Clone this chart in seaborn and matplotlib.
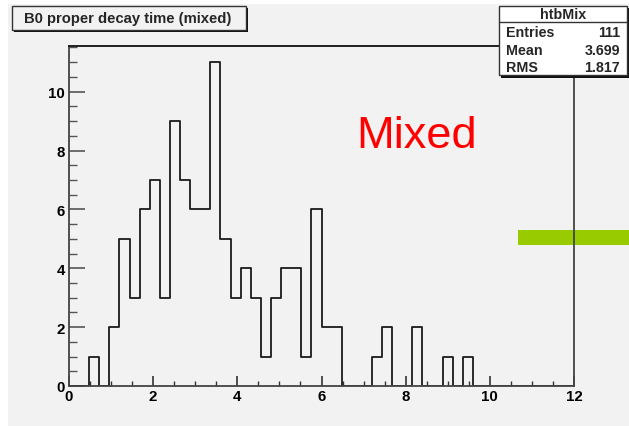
import numpy as np
import pandas as pd
import matplotlib
matplotlib.use("Agg")
import matplotlib.pyplot as plt
from matplotlib.patches import Rectangle
import seaborn as sns

# ---- data ----
bin_width = 0.24
x_min, x_max = 0.0, 12.0
counts = [0, 0, 1, 0, 2, 5, 3, 6, 7, 3,
          9, 7, 6, 6, 11, 5, 3, 4, 3, 1,
          3, 4, 4, 1, 6, 2, 2, 0, 0, 0,
          1, 2, 0, 0, 2, 0, 0, 1, 0, 1,
          0, 0, 0, 0, 0, 0, 0, 0, 0, 0]
hist_name = "htbMix"
title = "B0 proper decay time (mixed)"
stat_labels = ["Entries", "Mean", "RMS"]
stat_values = ["111", "3.699", "1.817"]
annotation = "Mixed"
x_ticks = [0, 2, 4, 6, 8, 10, 12]
y_ticks = [0, 2, 4, 6, 8, 10]

edges = np.linspace(x_min, x_max, len(counts) + 1)
centers = (edges[:-1] + edges[1:]) / 2
df = pd.DataFrame({"t": centers, "n": counts})

sns.set_theme(style="white")
plt.rcParams["font.family"] = ["Liberation Sans", "DejaVu Sans"]

W, H = 629, 427
fig = plt.figure(figsize=(W / 100, H / 100), dpi=100)
fig.patch.set_facecolor("white")

def fx(px):
    return px / W

def fy(py):
    return 1 - py / H

# gray canvas
fig.patches.append(Rectangle((fx(8), fy(427)), fx(629) - fx(8), fy(5) - fy(427),
                             transform=fig.transFigure, facecolor="#f2f2f2",
                             edgecolor="none", zorder=-3))
# green bar
fig.patches.append(Rectangle((fx(518), fy(246)), fx(629) - fx(518), fy(231) - fy(246),
                             transform=fig.transFigure, facecolor="#99cc00",
                             edgecolor="none", zorder=-1))

ax = fig.add_axes([fx(69), fy(387), fx(574) - fx(69), fy(47) - fy(387)])
ax.set_facecolor("none")
ax.set_zorder(0)

sns.histplot(data=df, x="t", weights="n", bins=[float(e) for e in edges],
             element="step", fill=False,
             color="#1a1a1a", linewidth=1.3, ax=ax)

ax.set_xlim(x_min, x_max)
ax.set_ylim(0, max(counts) * 1.05)
ax.set_xlabel("")
ax.set_ylabel("")
ax.set_xticks(x_ticks)
ax.set_yticks(y_ticks)
ax.set_xticks(np.arange(x_min, x_max + 0.01, 0.5), minor=True)
ax.set_yticks(np.arange(0, 11.51, 0.5), minor=True)
ax.set_xticklabels([str(v) for v in x_ticks], fontweight="bold", fontsize=10.8)
ax.set_yticklabels([str(v) for v in y_ticks], fontweight="bold", fontsize=10.8)
ax.tick_params(axis="x", which="major", direction="in", length=7.2, width=1.2,
               color="#333333", pad=2, bottom=True, top=False, labelcolor="black")
ax.tick_params(axis="x", which="minor", direction="in", length=3.6, width=1.0,
               color="#333333", bottom=True, top=False)
ax.tick_params(axis="y", which="major", direction="in", length=11.5, width=1.2,
               color="#555555", pad=3, left=True, right=False, labelcolor="black")
ax.tick_params(axis="y", which="minor", direction="in", length=5.8, width=1.0,
               color="#555555", left=True, right=False)
for side in ["left", "bottom", "right", "top"]:
    ax.spines[side].set_visible(True)
    ax.spines[side].set_color("#444444")
    ax.spines[side].set_linewidth(1.3)
ax.spines["top"].set_color("#111111")

# annotation
fig.text(fx(417), fy(148), annotation, color="red", fontsize=32.5,
         ha="center", va="baseline")

# title box with shadow
fig.patches.append(Rectangle((fx(14), fy(33)), fx(248) - fx(14), fy(9) - fy(33),
                             transform=fig.transFigure, facecolor="#111111",
                             edgecolor="none", zorder=3))
fig.patches.append(Rectangle((fx(12), fy(31)), fx(246) - fx(12), fy(7) - fy(31),
                             transform=fig.transFigure, facecolor="#f2f2f2",
                             edgecolor="#333333", linewidth=1.0, zorder=4))
fig.text(fx(24), fy(19), title, fontsize=10.7, fontweight="bold",
         ha="left", va="center", zorder=5)

# stats box with shadow
fig.patches.append(Rectangle((fx(501), fy(79)), fx(629) - fx(501), fy(9) - fy(79),
                             transform=fig.transFigure, facecolor="#111111",
                             edgecolor="none", zorder=3))
fig.patches.append(Rectangle((fx(499), fy(76)), fx(627) - fx(499), fy(7) - fy(76),
                             transform=fig.transFigure, facecolor="white",
                             edgecolor="#333333", linewidth=1.0, zorder=4))
fig.lines.append(plt.Line2D([fx(499), fx(627)], [fy(23), fy(23)],
                            transform=fig.transFigure, color="#333333",
                            linewidth=1.0, zorder=5))
fig.text(fx(563), fy(15), hist_name, fontsize=10.3, fontweight="bold",
         ha="center", va="center", zorder=6)
row_y = [33, 51, 68]
for lab, val, yy in zip(stat_labels, stat_values, row_y):
    fig.text(fx(506), fy(yy), lab, fontsize=10.3, fontweight="bold",
             ha="left", va="center", zorder=6)
    fig.text(fx(620), fy(yy), val, fontsize=10.3, fontweight="bold",
             ha="right", va="center", zorder=6)

fig.savefig("out.png", dpi=100)
